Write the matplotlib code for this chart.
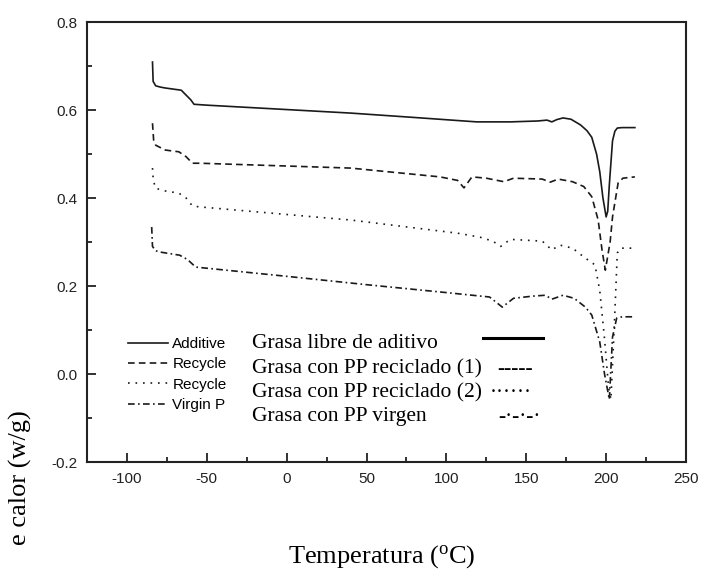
import matplotlib
matplotlib.use("Agg")
import matplotlib.pyplot as plt
from matplotlib.lines import Line2D
from matplotlib.ticker import MultipleLocator, FormatStrFormatter

# DSC curves
t_libre = [-84, -83.6, -82, -79, -76, -66, -63, -60, -58, -50, -25, 0, 40, 80, 119, 140, 157,
           163, 166, 169, 173, 178, 184, 188, 191, 194, 196, 198, 200, 201, 202, 204, 205.5, 207, 210, 218]
q_libre = [0.709, 0.665, 0.655, 0.652, 0.65, 0.645, 0.634, 0.623, 0.613, 0.611, 0.606, 0.601, 0.593,
           0.583, 0.573, 0.573, 0.575, 0.577, 0.573, 0.578, 0.582, 0.579, 0.566, 0.553, 0.538, 0.50,
           0.46, 0.40, 0.357, 0.37, 0.43, 0.53, 0.552, 0.559, 0.56, 0.56]

t_rec1 = [-84, -83.3, -82, -76, -67.5, -63, -59, -54, 40, 96, 107, 111, 116, 125, 136, 142, 160,
          165, 170, 179, 186, 191, 195, 197.5, 199.5, 202.5, 204, 207.5, 210.5, 218]
q_rec1 = [0.57, 0.532, 0.52, 0.509, 0.505, 0.494, 0.479, 0.479, 0.468, 0.448, 0.44, 0.423, 0.448,
          0.445, 0.437, 0.445, 0.443, 0.436, 0.443, 0.437, 0.426, 0.403, 0.35, 0.28, 0.236, 0.30,
          0.357, 0.434, 0.445, 0.448]

t_rec2 = [-84, -83.5, -82, -76, -67.5, -63, -59, -55, 27, 40, 107, 121, 129, 134, 140, 160, 166,
          171, 179, 186, 193, 196, 199, 201.5, 203, 205, 207, 209, 218]
q_rec2 = [0.468, 0.44, 0.422, 0.416, 0.411, 0.40, 0.382, 0.38, 0.354, 0.35, 0.32, 0.311, 0.302,
          0.29, 0.306, 0.302, 0.282, 0.293, 0.286, 0.266, 0.248, 0.19, 0.08, -0.03, -0.058, 0.10,
          0.275, 0.286, 0.286]

t_virgen = [-84.5, -84, -82, -79, -67, -62, -57, 0, 50, 100, 127, 135, 142, 154, 162, 166, 173,
            180, 187, 191, 196, 199, 202, 204, 206.6, 210, 218]
q_virgen = [0.334, 0.29, 0.28, 0.277, 0.27, 0.26, 0.243, 0.222, 0.203, 0.185, 0.175, 0.152, 0.172,
            0.177, 0.179, 0.17, 0.179, 0.172, 0.152, 0.134, 0.073, 0.0, -0.058, 0.084, 0.127, 0.13,
            0.13]

etiquetas_en = ["Additive", "Recycle", "Recycle", "Virgin P"]
etiquetas_es = ["Grasa libre de aditivo", "Grasa con PP reciclado (1)",
                "Grasa con PP reciclado (2)", "Grasa con PP virgen"]

plt.rcParams["font.family"] = ["Liberation Sans", "DejaVu Sans"]
plt.rcParams["axes.unicode_minus"] = False
plt.rcParams["mathtext.fontset"] = "custom"
plt.rcParams["mathtext.rm"] = "Liberation Serif"

W, H = 701, 576
fig = plt.figure(figsize=(W / 100, H / 100), dpi=100)
ax = fig.add_axes([87 / W, 1 - 462 / H, (686 - 87) / W, (462 - 22) / H])

c = "#1a1a1a"
lw = 1.2
l1, = ax.plot(t_libre, q_libre, color=c, lw=lw, ls="-")
l2, = ax.plot(t_rec1, q_rec1, color=c, lw=lw, dashes=(4, 2.5))
l3, = ax.plot(t_rec2, q_rec2, color=c, lw=lw, dashes=(1, 3.5))
l4, = ax.plot(t_virgen, q_virgen, color=c, lw=lw, dashes=(4, 2, 1, 2))

ax.set_xlim(-125, 250)
ax.set_ylim(-0.2, 0.8)
ax.xaxis.set_major_locator(MultipleLocator(50))
ax.xaxis.set_minor_locator(MultipleLocator(25))
ax.yaxis.set_major_locator(MultipleLocator(0.2))
ax.yaxis.set_minor_locator(MultipleLocator(0.1))
ax.yaxis.set_major_formatter(FormatStrFormatter("%.1f"))
ax.tick_params(which="both", direction="in", top=False, right=False, labelsize=11,
               colors="#222222", width=1.3)
ax.tick_params(which="major", length=6.5, pad=7)
ax.tick_params(which="minor", length=3.5)
for s in ax.spines.values():
    s.set_linewidth(1.5)
    s.set_color("#222222")

# original (english) legend, partly covered
ax.legend([l1, l2, l3, l4], etiquetas_en, loc="upper left", frameon=False, fontsize=11,
          bbox_to_anchor=(128 / W, 1 - 337 / H), bbox_transform=fig.transFigure,
          borderpad=0, borderaxespad=0, handlelength=2.6, handletextpad=0.3,
          labelspacing=0.42)

# spanish overlay legend
serif = ["Liberation Serif", "DejaVu Serif"]
filas = [344, 369, 393, 417]
for fila, txt in zip(filas, etiquetas_es):
    fig.text(252 / W, 1 - fila / H, txt, family=serif, fontsize=15.5, va="center", ha="left")
fig.add_artist(Line2D([483 / W, 543 / W], [1 - 338 / H, 1 - 338 / H], color="black", lw=2.2))
fig.text(497 / W, 1 - 369 / H, "-----", family=serif, fontsize=15.5, va="center", ha="left")
fig.text(490 / W, 1 - 393 / H, "\u00b7\u00b7\u00b7\u00b7\u00b7\u00b7", family=serif,
         fontsize=15.5, va="center", ha="left")
fig.text(498 / W, 1 - 417 / H, "-\u00b7-\u00b7-\u00b7", family=serif, fontsize=15.5,
         va="center", ha="left")

fig.text(382 / W, 1 - 557 / H, "Temperatura ($\\mathrm{^{o}}$C)", family=serif, fontsize=19,
         ha="center", va="center")
fig.text(20 / W, 1 - 410 / H, "e calor (w/g)", family=serif, fontsize=19, rotation=90,
         fontweight="normal", ha="center", va="top")

fig.savefig("out.png", dpi=100)
